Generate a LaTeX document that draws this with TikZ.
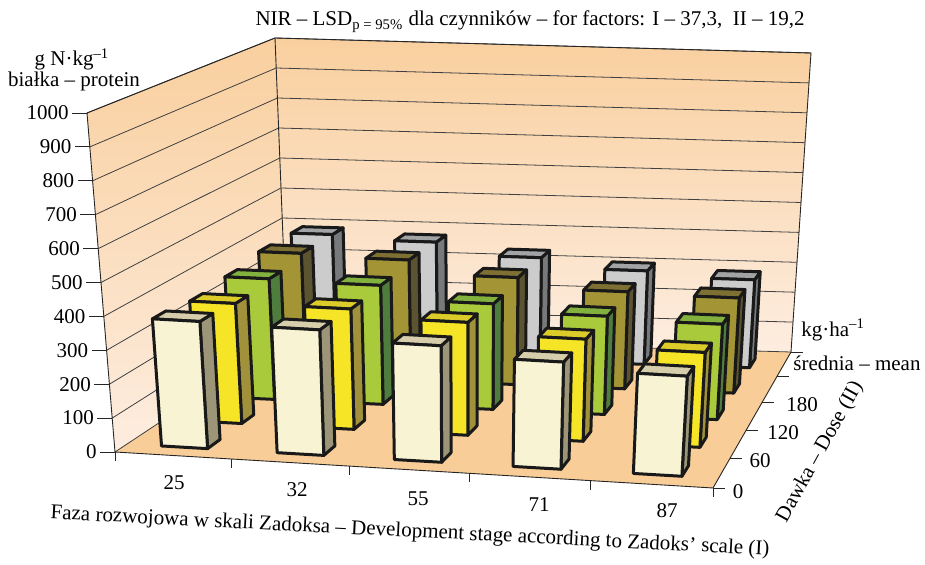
\documentclass[tikz,border=0pt]{standalone}
\usepackage{fontspec}
\setmainfont{Liberation Serif}
\definecolor{crm}{RGB}{248,243,211}
\definecolor{crmside}{RGB}{156,149,119}
\definecolor{crmtop}{RGB}{214,205,170}
\definecolor{ylw}{RGB}{246,229,38}
\definecolor{ylwside}{RGB}{160,145,58}
\definecolor{ylwtop}{RGB}{220,204,42}
\definecolor{grn}{RGB}{169,202,59}
\definecolor{grnside}{RGB}{79,125,61}
\definecolor{grntop}{RGB}{130,177,62}
\definecolor{olv}{RGB}{163,148,53}
\definecolor{olvside}{RGB}{92,83,48}
\definecolor{olvtop}{RGB}{126,112,51}
\definecolor{gry}{RGB}{204,204,204}
\definecolor{gryside}{RGB}{119,121,123}
\definecolor{grytop}{RGB}{162,163,165}
\definecolor{walltop}{RGB}{249,207,158}
\definecolor{wallbot}{RGB}{253,237,224}
\definecolor{floorc}{RGB}{249,205,152}

% point of the chart: u = stage (0-5), v = dose (0-5), z = value
\newcommand\gpt[4]{%
  \pgfmathsetmacro\cU{(#2)/5}%
  \pgfmathsetmacro\cV{(#3)/5}%
  \pgfmathsetmacro\cZ{(#4)/1000}%
  \pgfmathsetmacro\cU{\cU+0.033*\cU*(\cU-1)}%
  \pgfmathsetmacro\cV{\cV+0.11*\cV*(1-\cV)}%
  \pgfmathsetmacro\cX{(1-\cV)*(115+598*\cU)+\cV*(287+504*\cU)}%
  \pgfmathsetmacro\cY{(1-\cV)*(452+36*\cU)+\cV*(338+14*\cU)}%
  \pgfmathsetmacro\cH{(339+\cU)*(1-\cV)+(300-\cU)*\cV}%
  \pgfmathsetmacro\cS{(1-\cV)*(-28+49*\cU)+\cV*(-12+32*\cU)}%
  \coordinate (#1) at ({\cX+\cS*\cZ},{\cY-\cH*\cZ});%
}
\newcommand\drawbar[4]{%
  \gpt{b1}{#1+0.3}{#2+0.32}{0}\gpt{b2}{#1+0.7}{#2+0.32}{0}\gpt{b3}{#1+0.7}{#2+0.68}{0}%
  \gpt{t1}{#1+0.3}{#2+0.32}{#3}\gpt{t2}{#1+0.7}{#2+0.32}{#3}%
  \gpt{t3}{#1+0.7}{#2+0.68}{#3}\gpt{t4}{#1+0.3}{#2+0.68}{#3}%
  \draw[barline, fill=#4side] (b2) -- (b3) -- (t3) -- (t2) -- cycle;
  \draw[barline, fill=#4top] (t1) -- (t2) -- (t3) -- (t4) -- cycle;
  \draw[barline, fill=#4] (b1) -- (b2) -- (t2) -- (t1) -- cycle;
}

\begin{document}
\begin{tikzpicture}[x=0.5pt, y=-0.5pt, font=\fontsize{10.5}{12}\selectfont,
  edge/.style={draw=black!85, line width=0.45pt},
  grid/.style={draw=black!75, line width=0.4pt},
  barline/.style={draw=black!90, line width=1.5pt, line join=round},
  lbl/.style={inner sep=0.5pt}]
  \useasboundingbox (0,0) rectangle (925,565);
  \gpt{fl0}{0}{0}{0} \gpt{fl1}{0}{0}{1000}
  \gpt{bl0}{0}{5}{0} \gpt{bl1}{0}{5}{1000}
  \gpt{br0}{5}{5}{0} \gpt{br1}{5}{5}{1000}
  \gpt{fr0}{5}{0}{0}
  % walls and floor
  \shade[top color=walltop, bottom color=wallbot] (fl0) -- (bl0) -- (bl1) -- (fl1) -- cycle;
  \shade[top color=walltop, bottom color=wallbot] (bl0) -- (br0) -- (br1) -- (bl1) -- cycle;
  \fill[floorc] (fl0) -- (fr0) -- (br0) -- (bl0) -- cycle;
  \foreach \z in {0,100,...,1000} {
    \gpt{ga}{0}{0}{\z} \gpt{gb}{0}{5}{\z} \gpt{gc}{5}{5}{\z}
    \draw[grid] (ga) -- (gb) -- (gc);
  }
  \draw[edge] (fl0) -- (fl1) -- (bl1) -- (br1) -- (br0);
  \draw[edge] (bl0) -- (bl1);
  \draw[edge] (fl0) -- (fr0) -- (br0);
  % ticks
  \foreach \z in {0,100,...,1000} {
    \gpt{t}{0}{0}{\z}
    \draw[edge] (t) -- ++(-15,0) node[left=1.5pt, inner sep=0pt] (yl\z) {\z};
  }
  \foreach \i in {0,...,5} {\gpt{t}{\i}{0}{0} \draw[edge] (t) -- ++(0,9);}
  \foreach \j in {0,...,5} {\gpt{t}{5}{\j}{0} \draw[edge] (t) -- ++(12,0);}
  % bars, back row first
  \foreach \val [count=\i from 0] in {393,379,339,307,289} {\drawbar{\i}{4}{\val}{gry}}
  \foreach \val [count=\i from 0] in {394,386,343,311,305} {\drawbar{\i}{3}{\val}{olv}}
  \foreach \val [count=\i from 0] in {377,372,330,307,298} {\drawbar{\i}{2}{\val}{grn}}
  \foreach \val [count=\i from 0] in {366,367,344,311,289} {\drawbar{\i}{1}{\val}{ylw}}
  \foreach \val [count=\i from 0] in {378,373,346,318,297} {\drawbar{\i}{0}{\val}{crm}}
  % labels
  \node[lbl, anchor=base] (title) at (530,26)
    {NIR -- LSD\textsubscript{p = 95\%} dla czynników -- for factors: I -- 37,3,\ \ II -- 19,2};
  \node[lbl, anchor=base] (unit1) at (72,66) {g N·kg\textsuperscript{--1}};
  \node[lbl, anchor=base] (unit2) at (74,87) {białka -- protein};
  \node[lbl] (s25) at (174,483) {25};
  \node[lbl] (s32) at (297,490) {32};
  \node[lbl] (s55) at (418,499) {55};
  \node[lbl] (s71) at (539,505) {71};
  \node[lbl] (s87) at (667,511) {87};
  \node[lbl, rotate=-2.9] (xtitle) at (410,532)
    {Faza rozwojowa w skali Zadoksa -- Development stage according to Zadoks’ scale (I)};
  \node[lbl] (d0) at (738,492) {0};
  \node[lbl] (d60) at (760,461) {60};
  \node[lbl] (d120) at (783,433) {120};
  \node[lbl] (d180) at (802,405) {180};
  \node[lbl, anchor=west] (dmean) at (792,363) {średnia -- mean};
  \node[lbl, anchor=west] (dunit) at (800,330) {kg·ha\textsuperscript{--1}};
  \node[lbl, rotate=61] (dtitle) at (820,452) {Dawka -- Dose (II)};
\end{tikzpicture}
\end{document}
